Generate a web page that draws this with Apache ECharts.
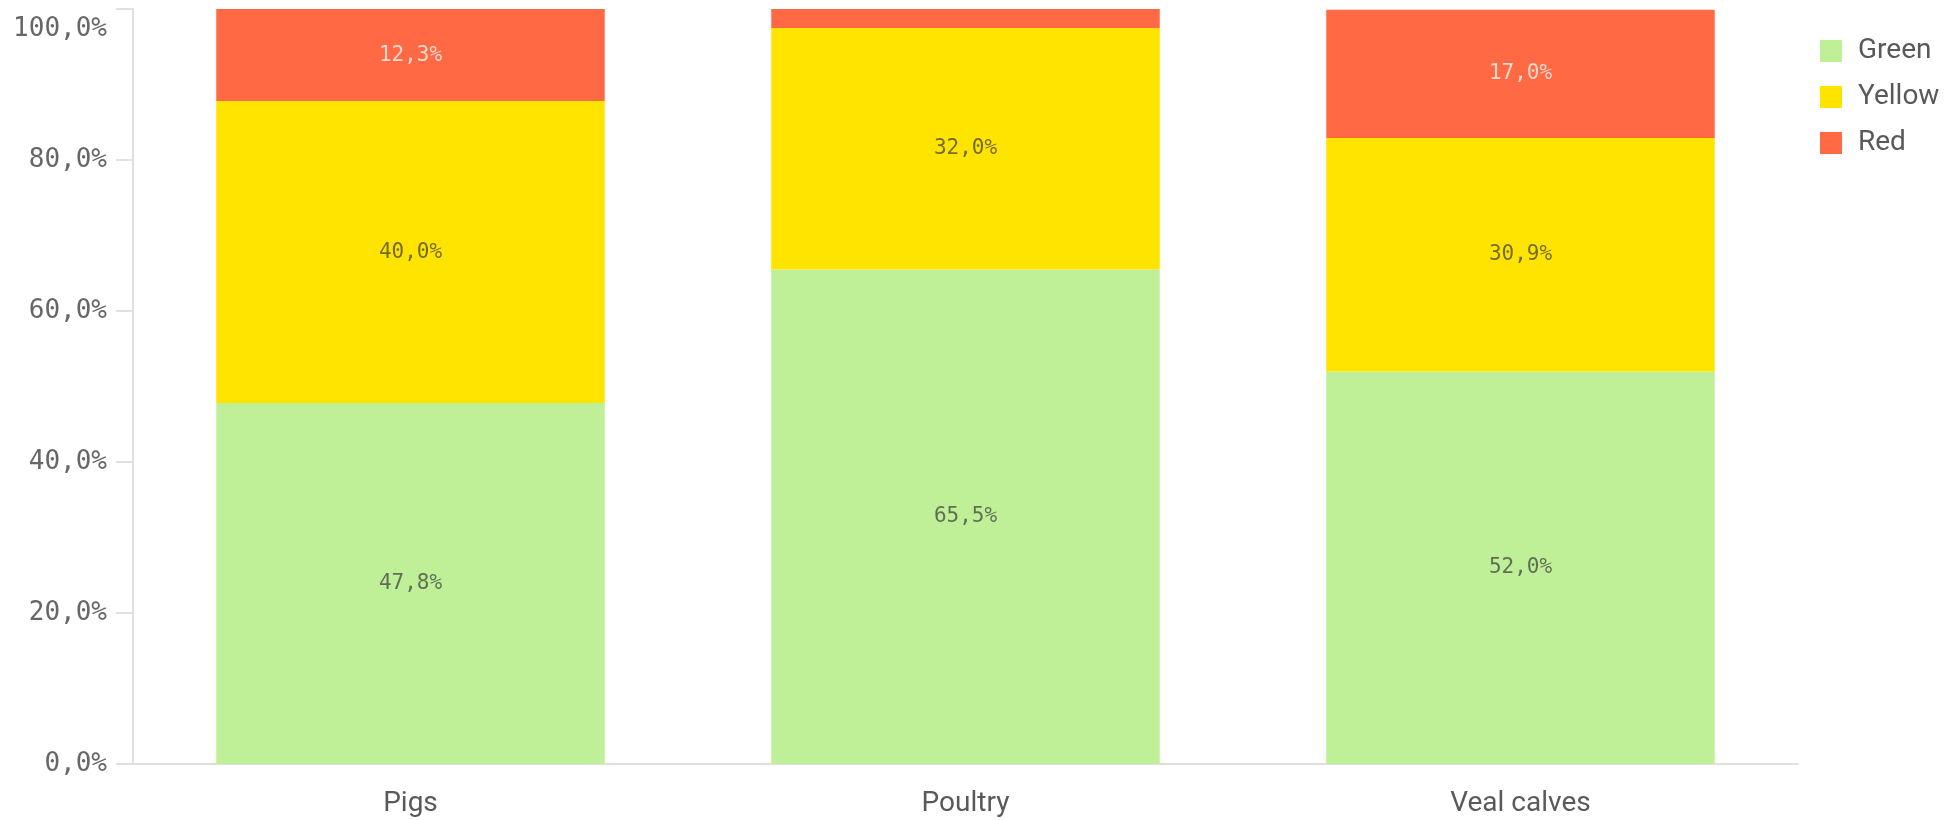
<!DOCTYPE html>
<html>
<head>
<meta charset="utf-8">
<script src="https://cdn.jsdelivr.net/npm/echarts@6/dist/echarts.min.js"></script>
<style>
html,body{margin:0;padding:0;background:#fff;}
#chart{width:1947px;height:820px;}
</style>
</head>
<body>
<div id="chart"></div>
<script>
const categories = ['Pigs', 'Poultry', 'Veal calves'];
const greenValues = [47.8, 65.5, 52.0];
const yellowValues = [40.0, 32.0, 30.9];
const redValues = [12.3, 2.5, 17.0];
const yTicks = [0, 20, 40, 60, 80, 100];

const fmt = v => v.toFixed(1).replace('.', ',') + '%';
const mono = 'DejaVu Sans Mono';
const sans = 'Roboto';

function seriesOf(name, data, color, labelColor) {
  return {
    name: name,
    type: 'bar',
    stack: 'total',
    data: data,
    barWidth: '70%',
    itemStyle: { color: color },
    label: {
      show: true,
      position: 'inside',
      fontFamily: mono,
      fontSize: 21,
      color: labelColor,
      formatter: p => p.value < 5 ? '' : fmt(p.value)
    },
    emphasis: { disabled: true }
  };
}

const chart = echarts.init(document.getElementById('chart'));
chart.setOption({
  animation: false,
  backgroundColor: '#ffffff',
  grid: { left: 133, right: 149, top: 9, bottom: 56, containLabel: false },
  legend: {
    orient: 'vertical',
    left: 1815,
    top: 32,
    itemWidth: 22,
    itemHeight: 22,
    itemGap: 18,
    icon: 'rect',
    textStyle: { fontFamily: sans, fontSize: 28, color: '#595959', lineHeight: 28, padding: [0, 0, 0, 11] },
    data: ['Green', 'Yellow', 'Red']
  },
  xAxis: {
    type: 'category',
    data: categories,
    axisLine: { lineStyle: { color: '#e0e0e0', width: 2 } },
    axisTick: { show: false },
    axisLabel: { fontFamily: sans, fontSize: 28, color: '#595959', margin: 26 }
  },
  yAxis: {
    type: 'value',
    min: 0,
    max: 100,
    interval: 20,
    axisLine: { show: true, lineStyle: { color: '#e0e0e0', width: 2 } },
    axisTick: { show: true, length: 17, lineStyle: { color: '#e0e0e0', width: 2 } },
    splitLine: { show: false },
    axisLabel: {
      fontFamily: mono,
      fontSize: 26,
      color: '#666666',
      margin: 26,
      verticalAlignMaxLabel: 'top',
      formatter: v => !yTicks.includes(v) ? '' : (v === 100 ? '{m|' + fmt(v) + '}' : fmt(v)),
      rich: {
        m: { fontFamily: mono, fontSize: 26, color: '#666666', lineHeight: 40 }
      }
    }
  },
  series: [
    seriesOf('Green', greenValues, '#bfef97', 'rgba(60,60,60,0.72)'),
    seriesOf('Yellow', yellowValues, '#ffe400', 'rgba(60,60,60,0.72)'),
    seriesOf('Red', redValues, '#ff6943', 'rgba(255,255,255,0.75)')
  ]
});
</script>
</body>
</html>
